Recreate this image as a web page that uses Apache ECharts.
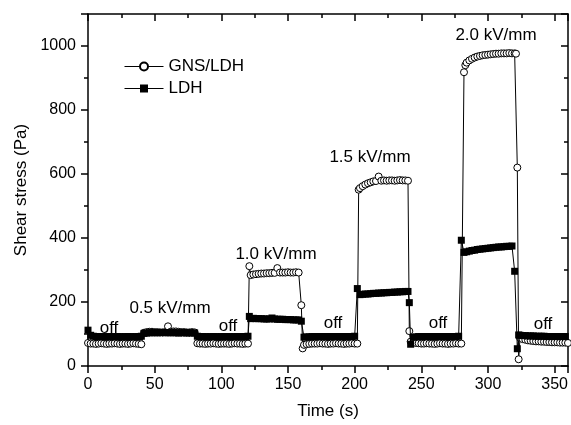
<!DOCTYPE html>
<html>
<head>
<meta charset="utf-8">
<script src="https://cdn.jsdelivr.net/npm/echarts@6/dist/echarts.min.js"></script>
<style>html,body{margin:0;padding:0;background:#fff}#c{width:571px;height:425px}</style>
</head>
<body>
<div id="c"></div>
<script>
// ---- data ----
const gnsTime = [0,2,4,6,8,10,12,14,16,18,20,22,24,26,28,30,32,34,36,38,40,
  42,44,46,48,50,52,54,56,58,60,62,64,66,68,70,72,74,76,78,80,
  82,84,86,88,90,92,94,96,98,100,102,104,106,108,110,112,114,116,118,120,
  121,122,124,126,128,130,132,134,136,138,140,142,144,146,148,150,152,154,156,158,
  160,161,162,164,166,168,170,172,174,176,178,180,182,184,186,188,190,192,194,196,198,200,202,
  203,204,206,208,210,212,214,216,218,220,222,224,226,228,230,232,234,236,238,240,
  241,242,244,246,248,250,252,254,256,258,260,262,264,266,268,270,272,274,276,278,280,
  282,283,284,286,288,290,292,294,296,298,300,302,304,306,308,310,312,314,316,318,320,
  321,322,323,324,326,328,330,332,334,336,338,340,342,344,346,348,350,352,354,356,358,360];
const gnsValue = [72,70,70,69,70,71,70,69,70,70,71,70,69,70,70,69,70,71,70,69,68,
  104,106,107,107,106,106,105,105,106,124,107,108,108,107,106,106,105,105,106,105,
  71,70,70,69,70,70,71,70,69,70,70,70,69,70,71,70,70,69,70,70,
  312,284,286,287,288,289,289,290,290,291,291,306,292,292,292,293,292,292,293,292,
  190,55,66,68,69,70,70,70,71,70,70,69,70,70,71,70,70,69,70,70,71,70,70,
  551,556,562,567,571,574,577,578,592,579,580,579,580,580,579,580,581,580,580,579,
  109,76,73,72,71,70,70,71,70,70,69,70,71,70,70,69,70,70,71,70,70,
  918,940,948,955,960,964,967,969,971,972,973,974,975,976,976,977,977,977,978,977,977,
  976,620,21,88,84,82,80,79,78,77,77,76,76,75,75,74,74,74,73,73,73,72];

const ldhTime = [0,2,4,6,8,10,12,14,16,18,20,22,24,26,28,30,32,34,36,38,40,
  42,44,46,48,50,52,54,56,58,60,62,64,66,68,70,72,74,76,78,80,
  82,84,86,88,90,92,94,96,98,100,102,104,106,108,110,112,114,116,118,120,
  121,122,124,126,128,130,132,134,136,138,140,142,144,146,148,150,152,154,156,158,160,
  162,164,166,168,170,172,174,176,178,180,182,184,186,188,190,192,194,196,198,200,
  202,204,206,208,210,212,214,216,218,220,222,224,226,228,230,232,234,236,238,240,
  241,242,244,246,248,250,252,254,256,258,260,262,264,266,268,270,272,274,276,278,280,
  282,284,286,288,290,292,294,296,298,300,302,304,306,308,310,312,314,316,318,320,
  322,323,324,326,328,330,332,334,336,338,340,342,344,346,348,350,352,354,356,358,360];
const ldhValue = [112,96,93,92,92,92,91,92,92,92,91,92,92,91,92,92,92,91,92,92,93,
  102,103,104,104,104,104,104,105,104,104,104,104,104,103,104,104,103,104,103,103,
  93,92,92,92,91,92,92,92,91,92,92,92,92,91,92,92,92,92,92,93,
  155,148,149,148,148,148,147,147,147,150,147,146,146,146,145,145,145,144,144,144,140,
  90,91,91,92,92,92,92,92,92,92,92,92,92,92,92,92,92,92,92,93,
  242,223,224,225,225,226,227,227,228,228,229,229,230,230,231,231,232,232,233,233,
  198,68,90,91,92,92,92,92,92,92,92,92,92,92,92,92,92,92,92,93,
  393,355,357,359,361,362,364,365,366,367,368,369,370,371,372,372,373,374,374,375,
  296,54,97,96,95,95,94,94,94,93,93,93,93,92,92,92,92,92,92,92,92];

const seriesNames = ['GNS/LDH', 'LDH'];
const xTitle = 'Time (s)';
const yTitle = 'Shear stress (Pa)';
const annotations = [
  {text: 'off', px: 109, py: 328},
  {text: '0.5 kV/mm', px: 170, py: 308},
  {text: 'off', px: 228, py: 326},
  {text: '1.0 kV/mm', px: 276, py: 254},
  {text: 'off', px: 333, py: 323},
  {text: '1.5 kV/mm', px: 370, py: 157},
  {text: 'off', px: 438, py: 323},
  {text: '2.0 kV/mm', px: 496, py: 35},
  {text: 'off', px: 543, py: 324}
];

const FONT = 'Liberation Sans, Arial, Helvetica, sans-serif';
const pair = (t, v) => t.map((x, i) => [x, v[i]]);

const chart = echarts.init(document.getElementById('c'), null, {renderer: 'canvas'});
const axisBase = {
  axisLine: {show: true, onZero: false, lineStyle: {color: '#000', width: 1.5}},
  splitLine: {show: false}
};
chart.setOption({
  animation: false,
  backgroundColor: '#fff',
  grid: {left: 88, right: 3, top: 14, bottom: 58, containLabel: false},
  xAxis: [
    Object.assign({}, axisBase, {
      type: 'value', min: 0, max: 360, interval: 50, position: 'bottom',
      name: xTitle, nameLocation: 'middle', nameGap: 37,
      nameTextStyle: {fontSize: 17, color: '#000', fontFamily: FONT},
      axisTick: {show: true, inside: false, length: 7, lineStyle: {color: '#000', width: 1.5}},
      minorTick: {show: true, splitNumber: 2, length: 4, lineStyle: {color: '#000', width: 1.5}},
      axisLabel: {fontSize: 16, color: '#000', fontFamily: FONT, margin: 11, showMaxLabel: false,
        formatter: v => String(v)}
    }),
    Object.assign({}, axisBase, {
      type: 'value', min: 0, max: 360, interval: 50, position: 'top',
      axisTick: {show: true, inside: true, length: 7, lineStyle: {color: '#000', width: 1.5}},
      minorTick: {show: true, splitNumber: 2, length: 4, lineStyle: {color: '#000', width: 1.5}},
      axisLabel: {show: false}
    })
  ],
  yAxis: [
    Object.assign({}, axisBase, {
      type: 'value', min: 0, max: 1100, interval: 200, position: 'left',
      name: yTitle, nameLocation: 'middle', nameGap: 58, nameRotate: 90,
      nameTextStyle: {fontSize: 17, color: '#000', fontFamily: FONT},
      axisTick: {show: true, inside: false, length: 7, lineStyle: {color: '#000', width: 1.5}},
      minorTick: {show: true, splitNumber: 2, length: 4, lineStyle: {color: '#000', width: 1.5}},
      axisLabel: {fontSize: 16, color: '#000', fontFamily: FONT, margin: 12, showMaxLabel: false,
        formatter: v => String(v)}
    }),
    Object.assign({}, axisBase, {
      type: 'value', min: 0, max: 1100, interval: 200, position: 'right',
      axisTick: {show: true, inside: true, length: 7, lineStyle: {color: '#000', width: 1.5}},
      minorTick: {show: true, splitNumber: 2, length: 4, lineStyle: {color: '#000', width: 1.5}},
      axisLabel: {show: false}
    })
  ],
  legend: {
    orient: 'vertical', left: 124, top: 58, padding: 0, itemWidth: 39, itemHeight: 10, itemGap: 5,
    lineStyle: {width: 1, color: '#000'},
    textStyle: {fontSize: 17, color: '#000', fontFamily: FONT},
    data: seriesNames
  },
  series: [
    {
      name: seriesNames[0], type: 'line', data: pair(gnsTime, gnsValue),
      symbol: 'circle', symbolSize: 7, showAllSymbol: true,
      lineStyle: {color: '#000', width: 1},
      itemStyle: {color: '#fff', borderColor: '#000', borderWidth: 1},
      z: 2
    },
    {
      name: seriesNames[1], type: 'line', data: pair(ldhTime, ldhValue),
      symbol: 'rect', symbolSize: 7, showAllSymbol: true,
      lineStyle: {color: '#000', width: 1},
      itemStyle: {color: '#000', borderColor: '#000', borderWidth: 0},
      z: 3
    }
  ],
  graphic: annotations.map(a => ({
    type: 'text', x: a.px, y: a.py, z: 10,
    style: {text: a.text, fill: '#000', font: '17px ' + FONT, align: 'center', verticalAlign: 'middle'}
  }))
});
</script>
</body>
</html>
